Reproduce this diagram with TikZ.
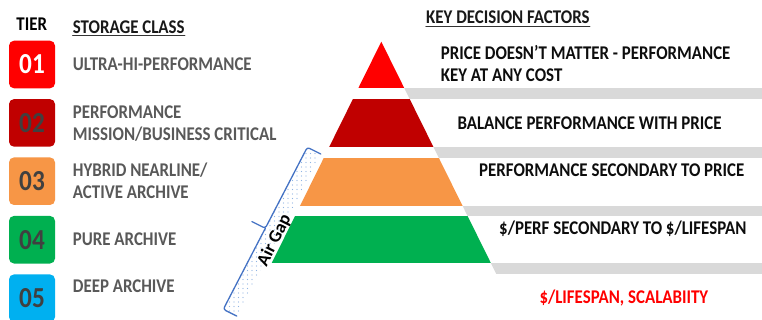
\documentclass[tikz,border=0pt]{standalone}
\usepackage{fontspec}
\setmainfont{Carlito}[FakeStretch=0.87]
\newfontfamily\gapfont{Carlito}
\usetikzlibrary{patterns.meta}

\definecolor{tierone}{HTML}{FF0000}
\definecolor{tiertwo}{HTML}{C00000}
\definecolor{tierthree}{HTML}{F79646}
\definecolor{tierfour}{HTML}{00B050}
\definecolor{tierfive}{HTML}{00B0F0}
\definecolor{bandgray}{HTML}{D9D9D9}
\definecolor{labelgray}{HTML}{595959}
\definecolor{digitgray}{HTML}{404040}
\definecolor{gapblue}{HTML}{4472C4}
\definecolor{dotblue}{HTML}{8FB4E3}

\tikzset{
    every node/.style = {font=\fontsize{19.4}{22}\selectfont\bfseries, inner sep=0pt},
    tierbox/.style    = {rounded corners=5pt, minimum width=46pt, minimum height=47.6pt,
                         font=\fontsize{29}{29}\selectfont\bfseries, text=digitgray},
    heading/.style    = {anchor=base west, text=black!90},
    classlabel/.style = {anchor=base west, align=left, text=labelgray},
    factor/.style     = {anchor=base west, align=left, text=black!95},
}

\begin{document}
\begin{tikzpicture}[%
        x = 1pt,
        y = -1pt,
        line cap = round
    ]

        \clip (0,0) rectangle (762,320);
        \fill[white] (0,0) rectangle (762,320);

        % Points that define the pyramid.
        \coordinate (Apex)  at (381.3, 41.7);
        \coordinate (BaseL) at (266.3, 274);
        \coordinate (BaseR) at (496.3, 274);

        % Headings.
        \node[anchor=base, text=black] (TierHead) at (31.7, 30.7) {TIER};
        \node[heading] (ClassHead)  at (72.7, 33.3) {STORAGE CLASS};
        \node[heading] (FactorHead) at (426, 24)    {KEY DECISION FACTORS};
        \begin{scope}[line width=1.2pt, black!80]
            \draw ([yshift=-2.4pt]ClassHead.base west) to ([yshift=-2.4pt]ClassHead.base east);
            \draw ([yshift=-2.4pt]FactorHead.base west) to ([yshift=-2.4pt]FactorHead.base east);
        \end{scope}

        % Tier numbers.
        \node[tierbox, fill=tierone, text=white] (T1) at (32, 64.5)  {01};
        \node[tierbox, fill=tiertwo]             (T2) at (32, 122.9) {02};
        \node[tierbox, fill=tierthree]           (T3) at (32, 181.2) {03};
        \node[tierbox, fill=tierfour]            (T4) at (32, 239.7) {04};
        \node[tierbox, fill=tierfive]            (T5) at (32, 298.2) {05};

        % Storage classes (base is the last line).
        \node[classlabel] (C1) at (72.7, 71)    {ULTRA-HI-PERFORMANCE};
        \node[classlabel] (C2) at (72.7, 140.3) {PERFORMANCE\\MISSION/BUSINESS CRITICAL};
        \node[classlabel] (C3) at (72.7, 199)   {HYBRID NEARLINE/\\ACTIVE ARCHIVE};
        \node[classlabel] (C4) at (72.7, 245.7) {PURE ARCHIVE};
        \node[classlabel] (C5) at (72.7, 292.7) {DEEP ARCHIVE};

        % Pyramid layers, cut out of one triangle.
        \begin{scope}
            \clip (Apex) -- (BaseR) -- (BaseL) -- cycle;
            \foreach \top/\bot/\col in {30/87.7/tierone, 99/146.7/tiertwo,
                                        157.7/205.7/tierthree, 216/263.3/tierfour}
                \fill[\col] (250, \top) rectangle (510, \bot);
        \end{scope}

        % Grey bands on the right of the pyramid.
        \begin{scope}
            \clip (Apex) -- (BaseR) -- (762, 274) -- (762, 41.7) -- cycle;
            \foreach \top/\bot in {87.7/99, 146.7/157.7, 205.7/216, 263.3/274}
                \fill[bandgray] (370, \top) rectangle (762, \bot);
        \end{scope}

        % Decision factors.
        \node[factor] (F1) at (440.7, 81.7) {PRICE DOESN’T MATTER - PERFORMANCE\\KEY AT ANY COST};
        \node[factor] (F2) at (457.3, 130)  {BALANCE PERFORMANCE WITH PRICE};
        \node[factor] (F3) at (479, 176.7)  {PERFORMANCE SECONDARY TO PRICE};
        \node[factor] (F4) at (499, 235)    {\$/PERF SECONDARY TO \$/LIFESPAN};
        \node[factor, text=tierone] (F5) at (539.3, 303.5) {\$/LIFESPAN, SCALABIITY};

        % Air gap bracket along the left side.
        \coordinate (GapTop)    at (307.3, 147.3);
        \coordinate (GapTopEnd) at (320.7, 154);
        \coordinate (GapMid)    at (265.3, 228.3);
        \coordinate (GapTip)    at (251.9, 221.6);
        \coordinate (GapBot)    at (223.3, 309.3);
        \coordinate (GapBotEnd) at (236.7, 316);

        \fill[pattern={Dots[distance=4.5pt, radius=0.6pt]}, pattern color=dotblue]
            (GapTop) -- (GapTopEnd) -- (GapBotEnd) -- (GapBot) -- cycle;
        \draw[gapblue, line width=1.3pt, rounded corners=2.5pt, line join=round]
            (GapTopEnd) -- (GapTop) -- (GapMid) -- (GapTip);
        \draw[gapblue, line width=1.3pt, rounded corners=2.5pt, line join=round]
            (GapMid) -- (GapBot) -- (GapBotEnd);

        \node[rotate=63.7, font=\gapfont\fontsize{18}{18}\selectfont\bfseries]
            (GapText) at (274.5, 240.3) {Air Gap};
    \end{tikzpicture}
\end{document}
